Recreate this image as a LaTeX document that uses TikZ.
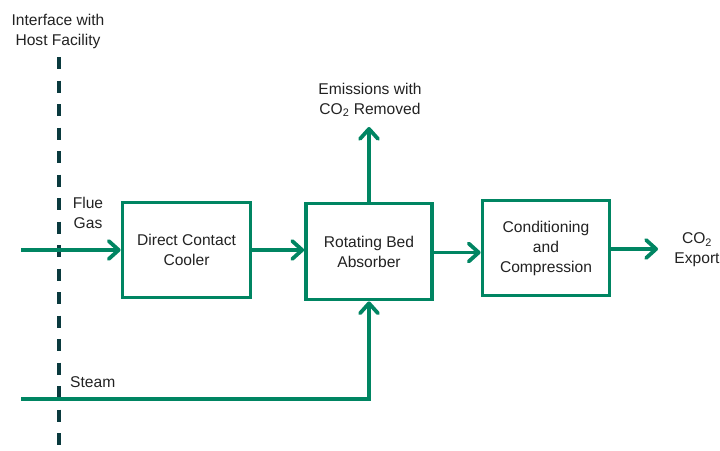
\documentclass[tikz,border=0pt]{standalone}
\usepackage{fontspec}
\setmainfont{Liberation Sans}
\usetikzlibrary{arrows.meta}
\definecolor{ggreen}{RGB}{0,133,98}
\definecolor{dteal}{RGB}{10,58,62}
\definecolor{txtgray}{RGB}{34,34,34}

\begin{document}
\begin{tikzpicture}[x=1pt,y=-1pt,line join=miter,
  >={Straight Barb[length=10pt,width=18pt,round]},
  unit/.style={draw=ggreen,line width=3.8pt,fill=white,align=center,text=txtgray,inner sep=0pt},
  flow/.style={draw=ggreen,line width=3.8pt,->},
  lbl/.style={align=center,text=txtgray,inner sep=0pt},
  every node/.style={font=\fontsize{15.6}{20}\selectfont}]
\useasboundingbox (0,0) rectangle (720,450);
% interface line
\coordinate (itop) at (59,57);
\coordinate (ibot) at (59,450);
\draw[dteal,line width=4pt,dash pattern=on 12pt off 11.5pt] (itop) -- (ibot);
\node[lbl] (iface) at (58,31) {Interface with\\Host Facility};
% process units
\node[unit,minimum width=128pt,minimum height=95pt] (dcc) at (186.5,250) {Direct Contact\\Cooler};
\node[unit,minimum width=126pt,minimum height=96pt] (rba) at (369,251.5) {Rotating Bed\\Absorber};
\node[unit,minimum width=127pt,minimum height=95pt] (ccc) at (546,248) {Conditioning\\and\\Compression};
% streams
\coordinate (fin) at (21,250);
\coordinate (sin) at (21,399);
\coordinate (emout) at (369,127);
\coordinate (exout) at (658,249);
\draw[flow] (fin) -- (dcc.west);
\draw[flow] (dcc.east) -- (dcc.east -| rba.west);
\draw[flow] (rba.east |- 0,252.5) -- (ccc.west |- 0,252.5);
\draw[flow] (ccc.east |- exout) -- (exout);
\draw[flow] (rba.north) -- (emout);
\draw[flow] (sin) -| (rba.south);
% labels
\node[lbl] (flue) at (88,213) {Flue\\Gas};
\node[lbl,anchor=west] (steam) at (70,382) {Steam};
\node[lbl] (emis) at (370,100) {Emissions with\\CO\textsubscript{2} Removed};
\node[lbl] (export) at (697,250) {CO\textsubscript{2}\\Export};
\end{tikzpicture}
\end{document}
